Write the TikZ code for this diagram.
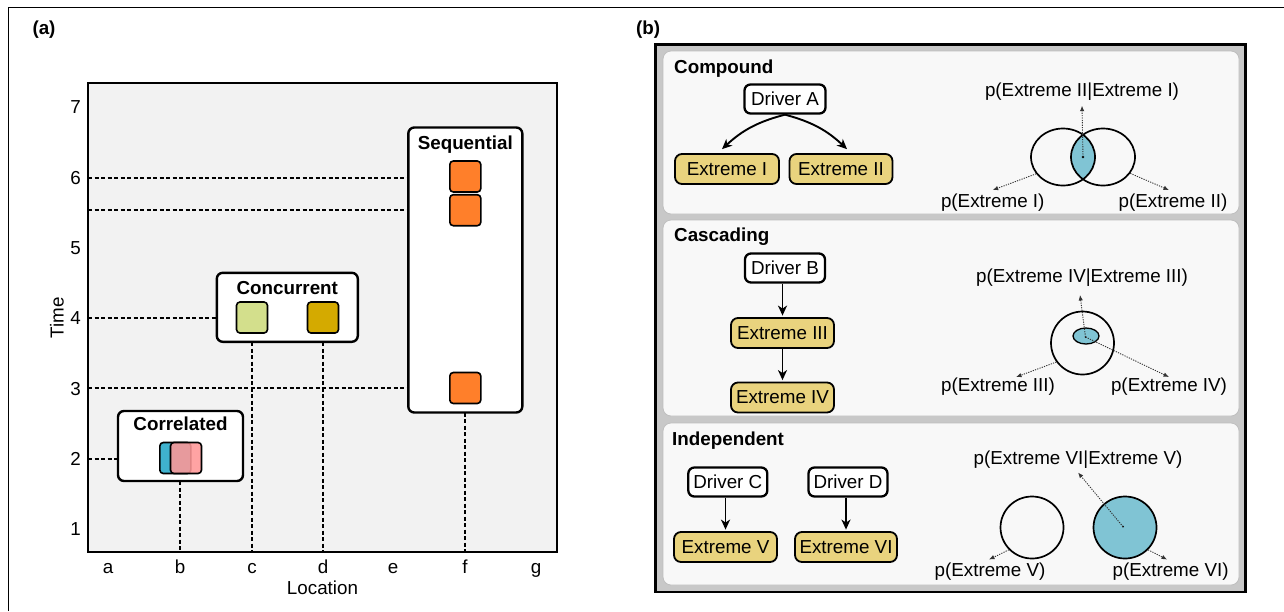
\documentclass[tikz,border=0pt]{standalone}
\usepackage{fontspec}
\setmainfont{Liberation Sans}
\usetikzlibrary{arrows.meta,shapes.geometric,calc}

\definecolor{plotbg}{HTML}{F2F2F2}
\definecolor{orangesq}{HTML}{FF7F2A}
\definecolor{limesq}{HTML}{D3DF8C}
\definecolor{goldsq}{HTML}{D4AA00}
\definecolor{bluesq}{HTML}{3FB2CE}
\definecolor{pinksq}{HTML}{FF9797}
\definecolor{extfill}{HTML}{E9D37E}
\definecolor{vennblue}{HTML}{80C4D4}
\definecolor{frameband}{HTML}{C8C8C8}
\definecolor{panelbg}{HTML}{F8F8F8}

\tikzset{
  txt/.style={font=\fontsize{18.8}{22}\selectfont, inner sep=0pt},
  btxt/.style={font=\fontsize{18.8}{22}\selectfont\bfseries, inner sep=0pt},
  guide/.style={line width=1.3pt, dash pattern=on 4pt off 2.5pt},
  grpbox/.style={draw, line width=2.4pt, fill=white, rounded corners=6pt, inner sep=0pt},
  sq/.style={draw, line width=1.6pt, rounded corners=3.5pt, minimum width=31pt, minimum height=31pt, inner sep=0pt},
  drvbox/.style={draw, line width=2.3pt, fill=white, rounded corners=6pt, inner sep=0pt,
    minimum height=29pt, font=\fontsize{18.8}{22}\selectfont},
  extbox/.style={draw, line width=1.8pt, fill=extfill, rounded corners=7pt, inner sep=0pt,
    minimum height=30pt, font=\fontsize{18.8}{22}\selectfont},
  arr/.style={line width=1.9pt, -{Stealth[length=10pt,width=9pt,inset=3pt]}},
  parr/.style={line width=0.9pt, dash pattern=on 1.2pt off 1.2pt, draw=black!80, -{Latex[length=5.5pt,width=4.5pt]}},
  venn/.style={draw, line width=1.7pt, ellipse, inner sep=0pt},
  panel/.style={fill=panelbg, draw=black!25, line width=0.8pt, rounded corners=8pt},
}

\begin{document}
\begin{tikzpicture}[x=1pt,y=-1pt]
\useasboundingbox (0,0) rectangle (1284,611);
\fill[white] (0,0) rectangle (1284,611);

% outer frame lines
\draw[line width=1.2pt] (8.5,611) -- (8.5,7.5) -- (1284,7.5);

% ================= panel (a) =================
\node[btxt] (labA) at (44,30) {(a)};

\draw[line width=2.5pt, fill=plotbg] (88,83) rectangle (557,552);

% axis reference points
\coordinate (t6) at (88,178);
\coordinate (t55) at (88,210);
\coordinate (t4) at (88,318);
\coordinate (t3) at (88,388);
\coordinate (t2) at (88,459);
\coordinate (xb) at (180,552);
\coordinate (xc) at (252,552);
\coordinate (xd) at (323,552);
\coordinate (xf) at (465,552);

% group box outlines (invisible, used to place the guides)
\path node[minimum width=125pt, minimum height=70pt, inner sep=0pt] (corr) at (180.5,446) {}
      node[minimum width=141pt, minimum height=69pt, inner sep=0pt] (conc) at (287.3,307.3) {}
      node[minimum width=114pt, minimum height=285pt, inner sep=0pt] (seq) at (465.3,270) {};

% dashed guides
\draw[guide] (t6) -- (t6 -| seq.west);
\draw[guide] (t55) -- (t55 -| seq.west);
\draw[guide] (t3) -- (t3 -| seq.west);
\draw[guide] (t4) -- (t4 -| conc.west);
\draw[guide] (t2) -- (t2 -| corr.west);
\draw[guide] (corr.south -| xb) -- (xb);
\draw[guide] (conc.south -| xc) -- (xc);
\draw[guide] (conc.south -| xd) -- (xd);
\draw[guide] (seq.south -| xf) -- (xf);

% group boxes drawn over the guides
\node[grpbox, minimum width=125pt, minimum height=70pt] (corrb) at (180.5,446) {};
\node[grpbox, minimum width=141pt, minimum height=69pt] (concb) at (287.3,307.3) {};
\node[grpbox, minimum width=114pt, minimum height=285pt] (seqb) at (465.3,270) {};

\node[btxt, anchor=base] (corrT) at (180.5,430.7) {Correlated};
\node[btxt, anchor=base] (concT) at (287.3,294.3) {Concurrent};
\node[btxt, anchor=base] (seqT) at (465.3,149.3) {Sequential};

% event squares
\node[sq, fill=bluesq] (sqb1) at (175.3,458) {};
\node[sq, fill=pinksq, fill opacity=0.88] (sqb2) at (186,458) {};
\node[sq, fill=limesq] (sqc) at (252,317.5) {};
\node[sq, fill=goldsq] (sqd) at (323,317.5) {};
\node[sq, fill=orangesq] (sqf1) at (465.3,176.5) {};
\node[sq, fill=orangesq] (sqf2) at (465.3,210.2) {};
\node[sq, fill=orangesq] (sqf3) at (465.3,388) {};

% tick labels
\foreach \t/\yy in {7/107.4,6/177.7,5/248,4/318.3,3/388.6,2/458.9,1/529.2}
  \node[txt] (yt\t) at (75.5,\yy) {\t};
\foreach \l/\xx in {a/108,b/180,c/252,d/323,e/393,f/465,g/536}
  \node[txt, anchor=base] (xt\l) at (\xx,573) {\l};
\node[txt, anchor=base] (xlab) at (322.5,594) {Location};
\node[txt, rotate=90] (ylab) at (57,317.6) {Time};

% ================= panel (b) =================
\node[btxt] (labB) at (648,30) {(b)};

\draw[line width=2.6pt, fill=frameband] (655.5,44.5) rectangle (1245.5,592);
\draw[panel] (663,51) rectangle (1239,214);
\draw[panel] (663,220) rectangle (1239,416);
\draw[panel] (663,423) rectangle (1239,585);

\node[btxt, anchor=base west] (tCmp) at (674,73) {Compound};
\node[btxt, anchor=base west] (tCas) at (674,241.7) {Cascading};
\node[btxt, anchor=base west] (tInd) at (672,445) {Independent};

% --- compound ---
\node[drvbox, minimum width=81pt] (DA) at (785,99) {Driver A};
\node[extbox, minimum width=104pt] (E1) at (727,169) {Extreme I};
\node[extbox, minimum width=103pt] (E2) at (841,169) {Extreme II};
\draw[arr] (DA.south) to[bend right=14] ([xshift=-5pt,yshift=4pt]E1.north);
\draw[arr] (DA.south) to[bend left=14] ([xshift=6pt,yshift=4pt]E2.north);

\begin{scope}
  \clip (1063,157) ellipse [x radius=32pt, y radius=28.5pt];
  \fill[vennblue] (1103,157) ellipse [x radius=32pt, y radius=28.5pt];
\end{scope}
\node[venn, minimum width=64pt, minimum height=57pt] (vA1) at (1063,157) {};
\node[venn, minimum width=64pt, minimum height=57pt] (vA2) at (1103,157) {};
\coordinate (dotA) at (1083,157);
\fill (dotA) circle (1.3pt);

\node[txt] (lA) at (1082,91.7) {p(Extreme II|Extreme I)};
\node[txt] (lA1) at (992.7,203) {p(Extreme I)};
\node[txt] (lA2) at (1173,203) {p(Extreme II)};
\draw[parr] (dotA) -- ([yshift=-5pt]lA.south);
\draw[parr] (vA1.212) -- ([yshift=4pt]lA1.north);
\draw[parr] (vA2.329) -- ([xshift=-4pt,yshift=4pt]lA2.north);

% --- cascading ---
\node[drvbox, minimum width=80pt] (DB) at (785,268) {Driver B};
\node[extbox, minimum width=103pt] (E3) at (782.5,333) {Extreme III};
\node[extbox, minimum width=103pt] (E4) at (782.5,397.5) {Extreme IV};
\draw[arr, shorten >=1.5pt] (DB.south -| E3.north) -- (E3.north);
\draw[arr, shorten >=1.5pt] (E3.south) -- (E4.north);

\node[venn, minimum width=63pt, minimum height=63pt] (vB) at (1082.5,343) {};
\node[venn, fill=vennblue, line width=1.3pt, minimum width=26pt, minimum height=16pt] (vB2) at (1086,336) {};
\coordinate (dotB) at (1085.5,337);
\fill (dotB) circle (1pt);

\node[txt] (lB) at (1082,278) {p(Extreme IV|Extreme III)};
\node[txt] (lB1) at (998,387) {p(Extreme III)};
\node[txt] (lB2) at (1169,387) {p(Extreme IV)};
\draw[parr] (dotB) -- ([xshift=-2pt,yshift=-8pt]lB.south);
\draw[parr] (vB.216) -- ([xshift=18pt,yshift=1pt]lB1.north);
\draw[parr] (dotB) -- ([yshift=1pt]lB2.north);

% --- independent ---
\node[drvbox, minimum width=79pt] (DC) at (727.8,482) {Driver C};
\node[drvbox, minimum width=79pt] (DD) at (848,482) {Driver D};
\node[extbox, minimum width=103pt] (E5) at (725.5,547) {Extreme V};
\node[extbox, minimum width=102pt] (E6) at (846,547) {Extreme VI};
\draw[arr, shorten >=1.5pt] (DC.south -| E5.north) -- (E5.north);
\draw[arr, shorten >=1.5pt] (DD.south -| E6.north) -- (E6.north);

\node[venn, minimum width=63pt, minimum height=62pt] (vC1) at (1032,527.5) {};
\node[venn, fill=vennblue, minimum width=63pt, minimum height=62pt] (vC2) at (1125,527.5) {};
\coordinate (dotC) at (1123,526.7);
\fill (dotC) circle (1pt);

\node[txt] (lC) at (1078,460) {p(Extreme VI|Extreme V)};
\node[txt] (lC1) at (990,572) {p(Extreme V)};
\node[txt] (lC2) at (1170.6,572) {p(Extreme VI)};
\draw[parr] (dotC) -- ([yshift=-3.5pt]lC.south);
\draw[parr] (vC1.224) -- ([xshift=-1pt,yshift=3.5pt]lC1.north);
\draw[parr] (vC2.316) -- ([xshift=-3.5pt,yshift=3.5pt]lC2.north);

\end{tikzpicture}
\end{document}
